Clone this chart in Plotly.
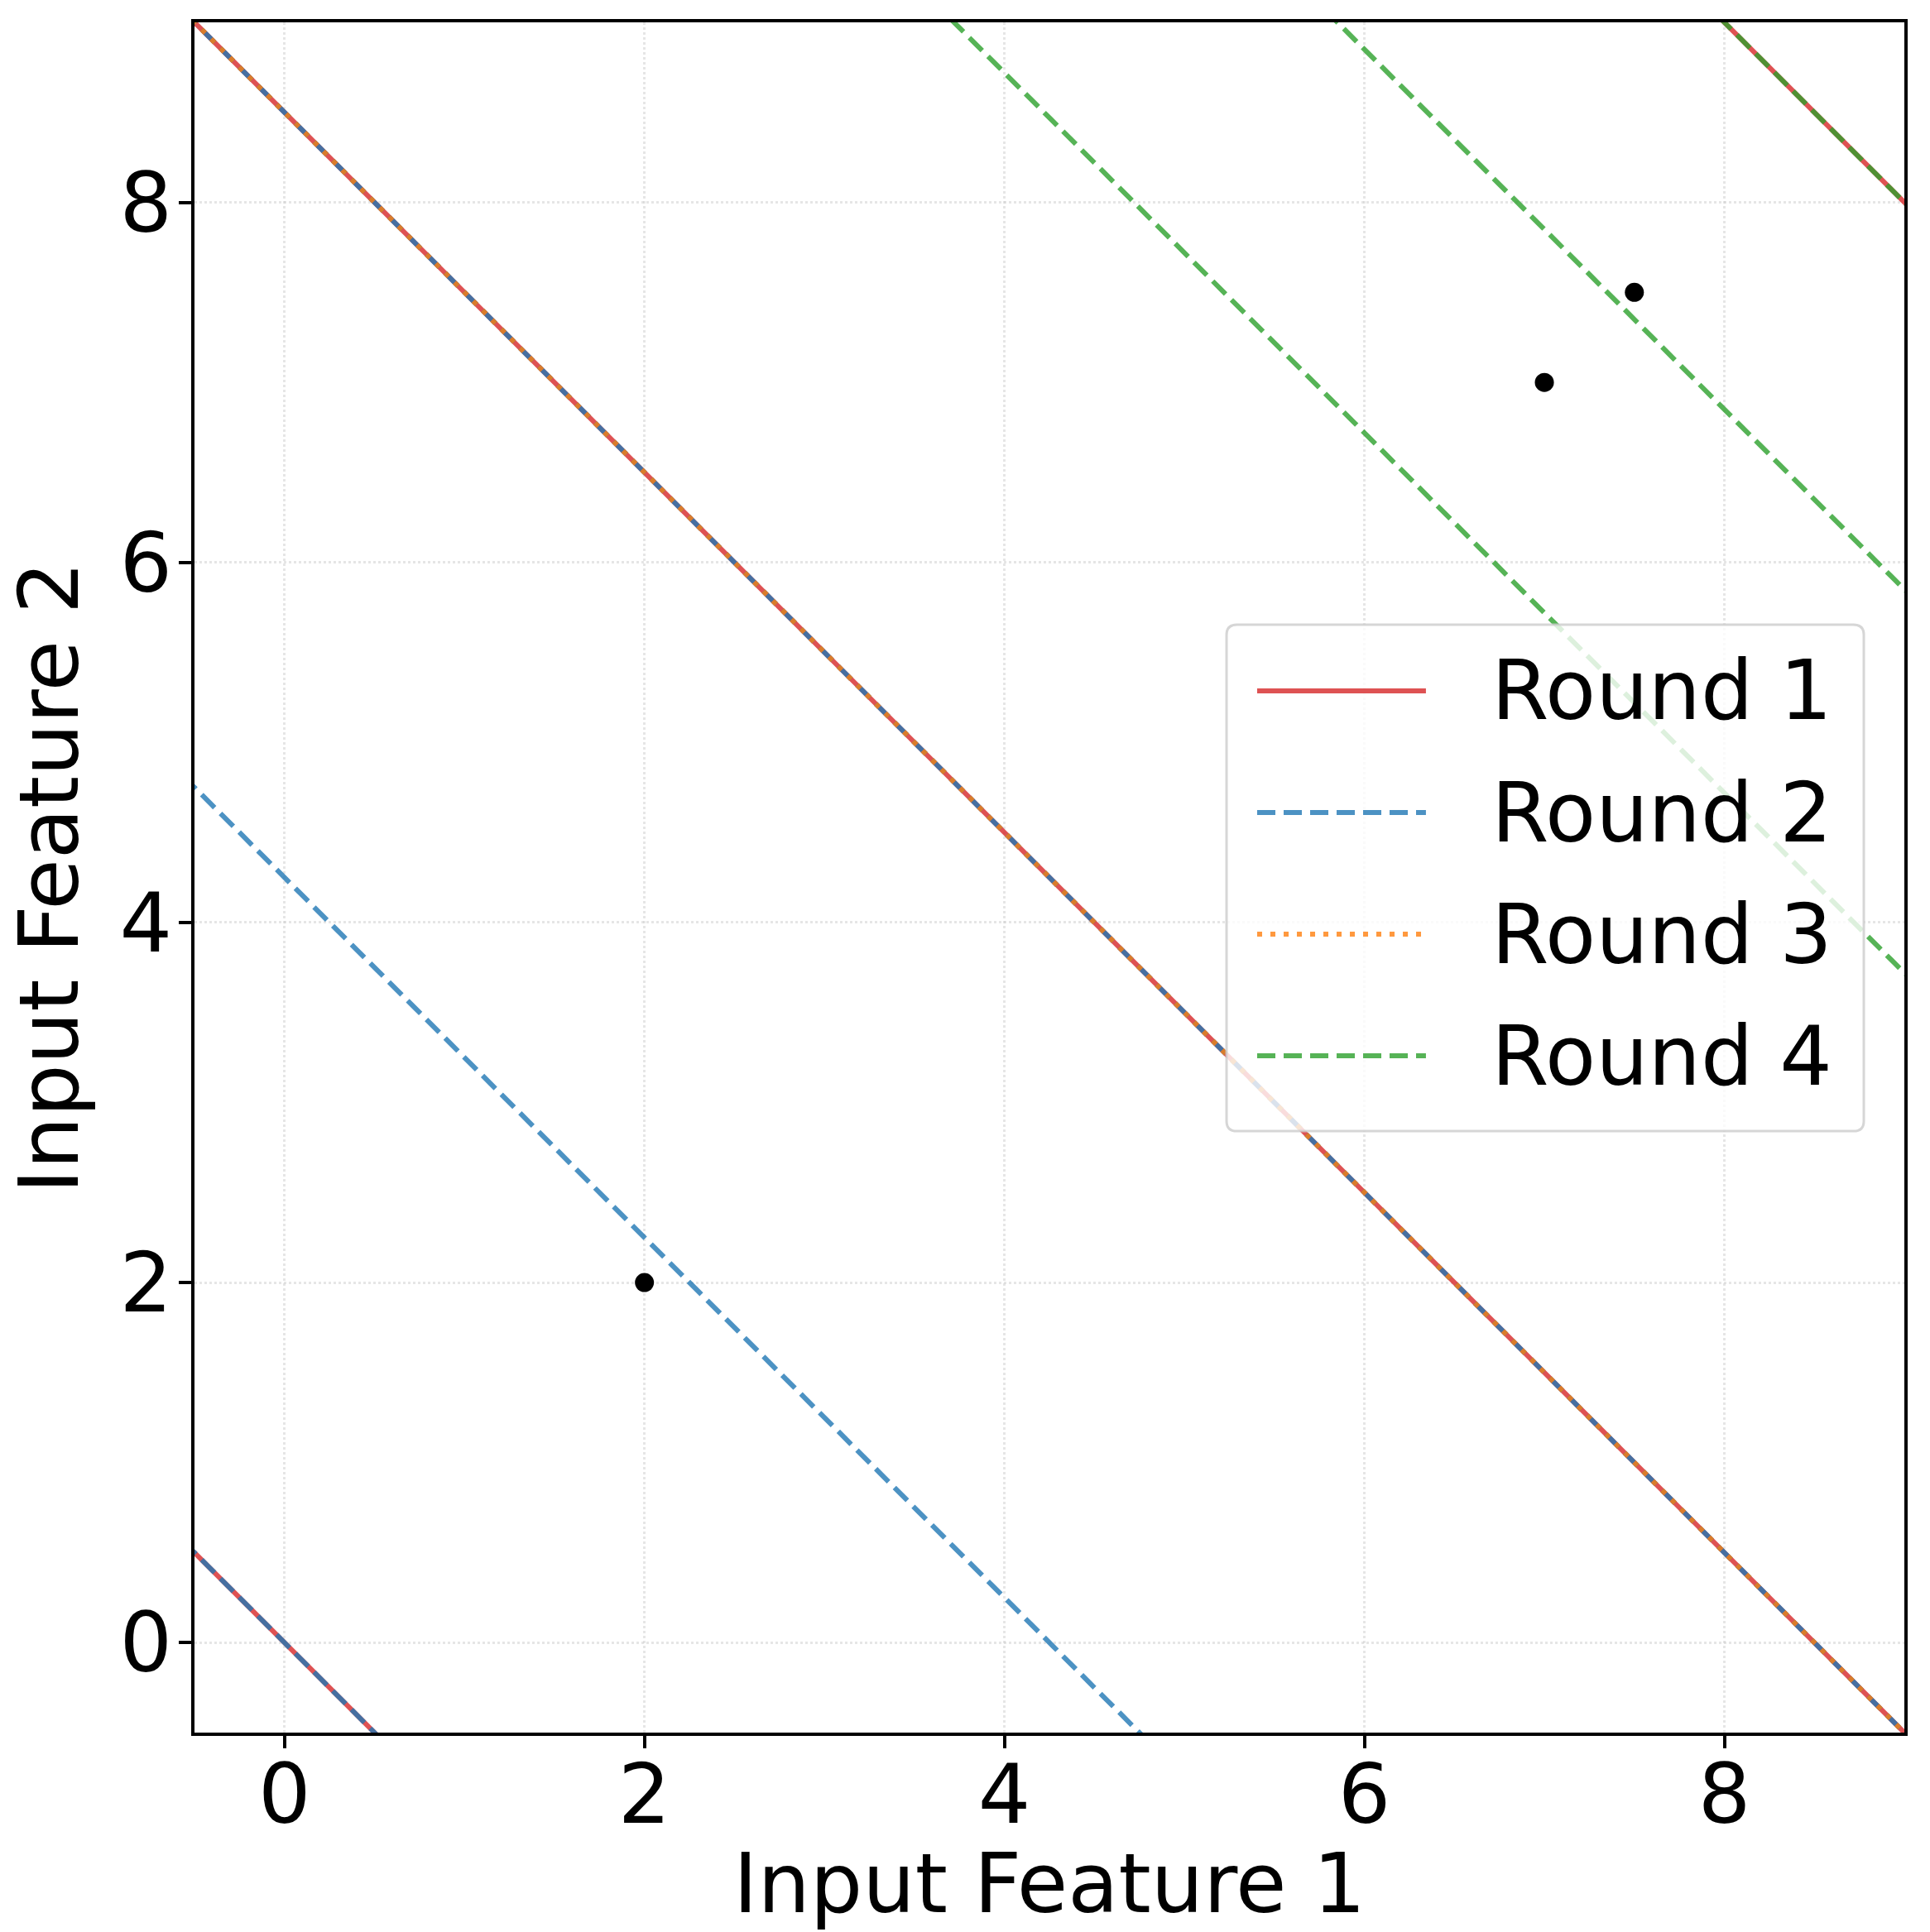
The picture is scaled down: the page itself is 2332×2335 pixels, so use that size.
import plotly.graph_objects as go

# ---------------- data ----------------
rounds = ["Round 1", "Round 2", "Round 3", "Round 4"]
# each boundary line is x1 + x2 = level
round1_levels = [0.0, 8.5, 17.0]
round2_levels = [0.0, 4.25, 8.5]
round3_levels = [8.5]
round4_levels = [12.72, 14.85, 17.0]
levels = [round1_levels, round2_levels, round3_levels, round4_levels]

points_x = [2.0, 7.0, 7.5]
points_y = [2.0, 7.0, 7.5]

x_range = [-0.5, 9.0]
y_range = [-0.5, 9.0]
tick_vals = [0, 2, 4, 6, 8]

# ---------------- style ----------------
colors = ["rgba(214,39,40,0.8)", "rgba(31,119,180,0.8)",
          "rgba(255,127,14,0.8)", "rgba(44,160,44,0.8)"]
dashes = ["solid", "22px,10px", "6px,10px", "22px,10px"]
LW = 6
FONT = "DejaVu Sans"
FS = 100

fig = go.Figure()

for name, lv, col, dsh in zip(rounds, levels, colors, dashes):
    for c in lv:
        xs = [x_range[0] - 1, x_range[1] + 1]
        ys = [c - x for x in xs]
        fig.add_trace(go.Scatter(
            x=xs, y=ys, mode="lines", name=name, showlegend=False,
            line=dict(color=col, width=LW, dash=dsh), hoverinfo="skip"))

fig.add_trace(go.Scatter(
    x=points_x, y=points_y, mode="markers", showlegend=False,
    marker=dict(color="black", size=23, line=dict(width=0))))

axis_common = dict(
    tickvals=tick_vals, showline=True, linecolor="black", linewidth=4,
    mirror=True, ticks="outside", ticklen=15, tickwidth=3.5, tickcolor="black",
    showgrid=True, gridcolor="rgba(200,200,200,0.45)", gridwidth=2.5, griddash="dot",
    zeroline=False, tickfont=dict(family=FONT, size=FS, color="black"),
)

fig.update_xaxes(range=x_range, **axis_common, ticklabelstandoff=-30,
                 title=dict(text="Input Feature 1", font=dict(family=FONT, size=FS, color="black"),
                            standoff=50))
fig.update_yaxes(range=y_range, **axis_common, ticklabelstandoff=-12,
                 title=dict(text="Input Feature 2", font=dict(family=FONT, size=FS, color="black"),
                            standoff=17))

# ---------------- custom legend ----------------
bx0, bx1, by0, by1 = 0.6036, 0.9763, 0.3517, 0.6478
r = 0.006
path = (f"M{bx0+r},{by0} L{bx1-r},{by0} Q{bx1},{by0} {bx1},{by0+r} "
        f"L{bx1},{by1-r} Q{bx1},{by1} {bx1-r},{by1} L{bx0+r},{by1} "
        f"Q{bx0},{by1} {bx0},{by1-r} L{bx0},{by0+r} Q{bx0},{by0} {bx0+r},{by0} Z")
shapes = [dict(type="path", xref="paper", yref="paper", path=path,
               fillcolor="rgba(255,255,255,0.8)",
               line=dict(color="rgba(204,204,204,0.8)", width=3), layer="above")]
annotations = []
row0, row_step = 0.6091, 0.07113
for i, (name, col, dsh) in enumerate(zip(rounds, colors, dashes)):
    yy = row0 - i * row_step
    shapes.append(dict(type="line", xref="paper", yref="paper",
                       x0=0.6215, x1=0.7202, y0=yy, y1=yy, layer="above",
                       line=dict(color=col, width=LW, dash=dsh)))
    annotations.append(dict(xref="paper", yref="paper", x=0.7577, y=yy,
                            xanchor="left", yanchor="middle", showarrow=False,
                            text=name, font=dict(family=FONT, size=FS, color="black")))

fig.update_layout(
    width=2332, height=2335,
    margin=dict(l=235, r=31, t=27, b=241, autoexpand=False),
    paper_bgcolor="white", plot_bgcolor="white",
    shapes=shapes, annotations=annotations,
    font=dict(family=FONT, size=FS, color="black"),
)

fig.write_html("out.html")
